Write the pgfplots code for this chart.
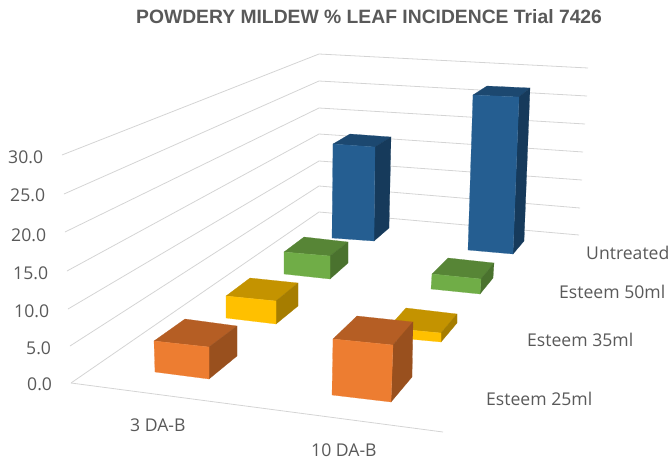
\documentclass[border=0pt]{standalone}
\usepackage{pgfplots}
\pgfplotsset{compat=1.18}
\usepackage{fontspec}
\setmainfont{Open Sans}
\newfontfamily\titlefont{Liberation Sans}
\definecolor{txt}{HTML}{595959}
\definecolor{gridc}{HTML}{D4D4D4}
\definecolor{oF}{HTML}{ED7D31}\definecolor{oT}{HTML}{B55E24}\definecolor{oS}{HTML}{99501E}
\definecolor{yF}{HTML}{FFC000}\definecolor{yT}{HTML}{C49300}\definecolor{yS}{HTML}{A67D00}
\definecolor{gF}{HTML}{70AD47}\definecolor{gT}{HTML}{578536}\definecolor{gS}{HTML}{4A722E}
\definecolor{bF}{HTML}{255E91}\definecolor{bT}{HTML}{1C4870}\definecolor{bS}{HTML}{163A5B}
\newcommand{\face}[2]{\addplot[fill=#1,draw=#1,line width=0.2pt,no markers,forget plot] coordinates {#2} -- cycle;}
\newcommand{\gl}[1]{\addplot[draw=gridc,line width=0.8pt,no markers,forget plot] coordinates {#1};}
\newcommand{\lab}[3]{\node[anchor=base west,text=txt,font=\fontsize{17.6}{19}\selectfont,inner sep=0pt] at (axis cs:#1,#2) {#3};}
\begin{document}
\begin{tikzpicture}
\begin{axis}[
  scale only axis,width=672pt,height=458pt,
  xmin=0,xmax=672,ymin=0,ymax=458,y dir=reverse,
  hide axis,clip=false]
\path (axis cs:0,0) -- (axis cs:672,458);
% value gridlines 30,25,...,0 on the two walls, projected to the picture plane
\gl{(62,155)(319,54)(588,68)}
\gl{(64,194)(319,81)(587,96)}
\gl{(65,232)(319,108)(585,124)}
\gl{(67,271)(319,134)(583,152)}
\gl{(68,309)(319,161)(582,180)}
\gl{(70,346)(319,186)(580,208)}
\gl{(71,383)(319,212)(579,235)}
\gl{(71,383)(443,432)}
% Untreated, 3 DA-B
\face{bT}{(333,144)(375,147)(391,137)(350,134)}
\face{bS}{(375,147)(391,137)(389,228)(374,241)}
\face{bF}{(333,144)(375,147)(374,241)(332,238)}
% Untreated, 10 DA-B
\face{bT}{(473,95)(519,97)(530,88)(487,86)}
\face{bS}{(519,97)(530,88)(524,241)(513,254)}
\face{bF}{(473,95)(519,97)(513,254)(468,250)}
% Esteem 50ml, 3 DA-B
\face{gT}{(284,252)(330,256)(348,242)(304,237)}
\face{gS}{(330,256)(348,242)(348,263)(330,279)}
\face{gF}{(284,252)(330,256)(330,279)(284,274)}
% Esteem 50ml, 10 DA-B
\face{gT}{(432,274)(481,279)(494,263)(448,258)}
\face{gS}{(481,279)(494,263)(493,278)(480,294)}
\face{gF}{(432,274)(481,279)(480,294)(431,289)}
% Esteem 35ml, 3 DA-B
\face{yT}{(226,296)(276,301)(298,283)(250,278)}
\face{yS}{(276,301)(298,283)(298,306)(276,324)}
\face{yF}{(226,296)(276,301)(276,324)(226,318)}
% Esteem 35ml, 10 DA-B
\face{yT}{(388,328)(441,333)(457,314)(406,308)}
\face{yS}{(441,333)(457,314)(457,323)(441,342)}
\face{yF}{(388,328)(441,333)(441,342)(388,337)}
% Esteem 25ml, 3 DA-B
\face{oT}{(154,341)(209,347)(237,326)(185,319)}
\face{oS}{(209,347)(237,326)(237,356)(209,379)}
\face{oF}{(154,341)(209,347)(209,379)(155,372)}
% Esteem 25ml, 10 DA-B
\face{oT}{(333,339)(393,345)(413,322)(357,316)}
\face{oS}{(393,345)(413,322)(412,377)(391,402)}
\face{oF}{(333,339)(393,345)(391,402)(332,395)}
% text
\node[anchor=base west,text=txt,font=\titlefont\bfseries\fontsize{19.3}{21}\selectfont,inner sep=0pt] at (axis cs:136,23) {POWDERY MILDEW \% LEAF INCIDENCE Trial 7426};
\lab{8}{163}{30.0}
\lab{10}{201}{25.0}
\lab{11}{241}{20.0}
\lab{13}{279}{15.0}
\lab{14}{317}{10.0}
\lab{26}{354}{5.0}
\lab{27}{390}{0.0}
\lab{130}{431}{3 DA-B}
\lab{311}{456}{10 DA-B}
\lab{586}{259}{Untreated}
\lab{559}{298}{Esteem 50ml}
\lab{527}{346}{Esteem 35ml}
\lab{486}{405}{Esteem 25ml}
\end{axis}
\end{tikzpicture}
\end{document}
